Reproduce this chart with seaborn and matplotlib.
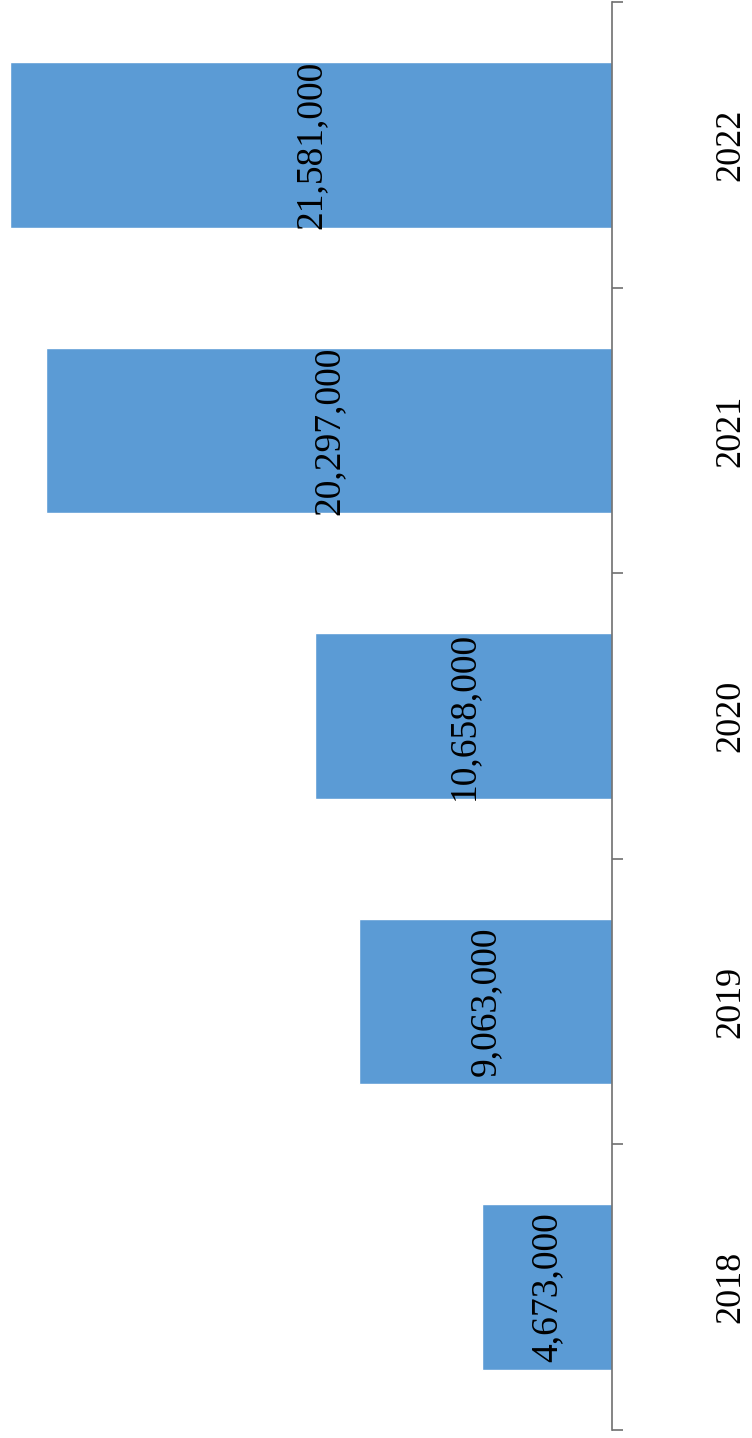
import matplotlib
matplotlib.use("Agg")
import matplotlib.pyplot as plt
import seaborn as sns
import pandas as pd
from matplotlib.ticker import FixedLocator

years = ["2018", "2019", "2020", "2021", "2022"]
values = [4673000, 9063000, 10658000, 20297000, 21581000]

sns.set_style("white")
plt.rcParams["font.family"] = ["Liberation Serif", "DejaVu Serif"]

df = pd.DataFrame({"year": years, "value": values})
order = years[::-1]

W, H = 752, 1438
fig = plt.figure(figsize=(W / 100, H / 100), dpi=100)
ax = fig.add_axes([0, (H - 1430) / H, 612 / W, (1430 - 2) / H])

sns.barplot(data=df, y="year", x="value", order=order, orient="h",
            color="#5B9BD5", saturation=1, width=0.58, ax=ax)

ax.set_xlim(612 / 27.9 * 1e6, 0)
ax.set_ylim(4.5, -0.5)

for c in ax.containers:
    ax.bar_label(c, labels=[f"{v:,.0f}" for v in c.datavalues],
                 label_type="center", rotation=90, fontsize=27, color="black")

for s in ["top", "left", "bottom"]:
    ax.spines[s].set_visible(False)
ax.spines["right"].set_visible(True)
ax.spines["right"].set_color("#707070")
ax.spines["right"].set_linewidth(1.2)

ax.set_xticks([])
ax.set_xlabel("")
ax.set_ylabel("")
ax.yaxis.tick_right()
ax.yaxis.set_minor_locator(FixedLocator([-0.5, 0.5, 1.5, 2.5, 3.5, 4.5]))
ax.tick_params(axis="y", which="minor", right=True, length=8, width=1.2,
               color="#707070", direction="out")
ax.tick_params(axis="y", which="major", right=True, length=0, pad=74,
               labelsize=26, labelcolor="black")
for t in ax.get_yticklabels():
    t.set_rotation(90)
    t.set_va("center")
    t.set_ha("left")

fig.savefig("out.png", dpi=100, facecolor="white")
